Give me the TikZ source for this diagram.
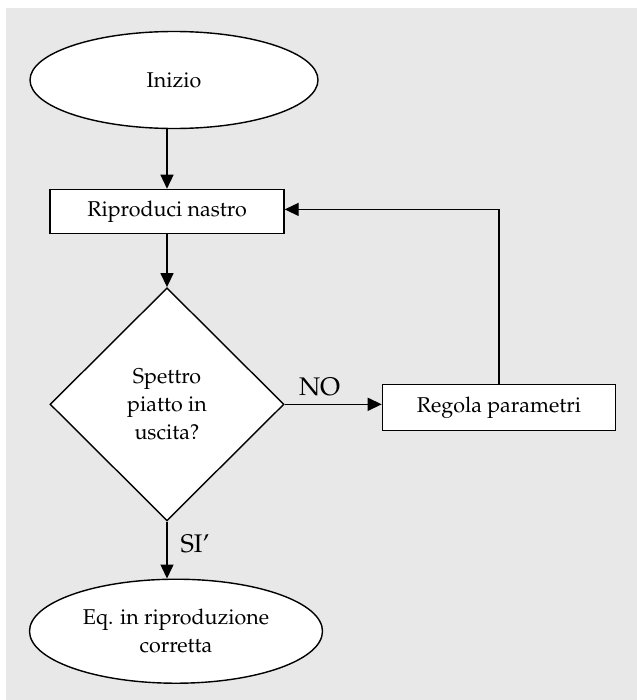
\documentclass[tikz,border=0pt]{standalone}
\usepackage[T1]{fontenc}
\usepackage{mathpazo}
\usepackage{tikz}
\usetikzlibrary{arrows.meta,positioning,shapes.geometric}
\definecolor{bggray}{RGB}{232,232,232}

\begin{document}
\begin{tikzpicture}[
  node distance=1cm,
  every node/.style={font=\fontsize{12.2}{16}\selectfont},
  base/.style={draw, thick, fill=white, align=center},
  term/.style={base, ellipse, inner sep=0pt},
  proc/.style={base, rectangle, inner sep=0pt},
  decision/.style={base, diamond, inner sep=0pt, minimum width=4.68cm, minimum height=4.66cm},
  arrow/.style={-{Triangle[length=0.28cm, width=0.26cm]}, thick},
  lbl/.style={font=\fontsize{14.5}{16}\selectfont},
]
  \useasboundingbox (0,0) rectangle (12.74,-14.0);
  \fill[bggray] (0.12,-0.16) rectangle (12.74,-14.0);

  % Main column
  \node[term, minimum width=5.76cm, minimum height=1.94cm] (start) at (3.48,-1.6) {Inizio};
  \node[proc, minimum width=4.68cm, minimum height=0.88cm, below=1.19cm of start, xshift=-0.14cm] (play) {Riproduci nastro};
  \node[decision, below=1.06cm of play] (check) {Spettro\\piatto in\\uscita?};
  \node[term, minimum width=5.86cm, minimum height=2.08cm, below=1.14cm of check, xshift=0.18cm] (done) {Eq. in riproduzione\\corretta};

  % Correction branch
  \node[proc, minimum width=4.66cm, minimum height=0.92cm, right=1.94cm of check, yshift=-0.06cm] (adjust) {Regola parametri};

  % Arrows
  \draw[arrow] (play.north |- start.south) -- (play.north);
  \draw[arrow] (play) -- (check);
  \draw[arrow] (check.east) -- (check.east -| adjust.west)
    node[lbl, pos=0.36, above=1pt] (no) {NO};
  \draw[arrow] (adjust.north) |- ([yshift=0.04cm]play.east);
  \draw[arrow] (check.south) -- (check.south |- done.north)
    node[lbl, pos=0.4, right=4pt] (yes) {SI'};
\end{tikzpicture}
\end{document}
